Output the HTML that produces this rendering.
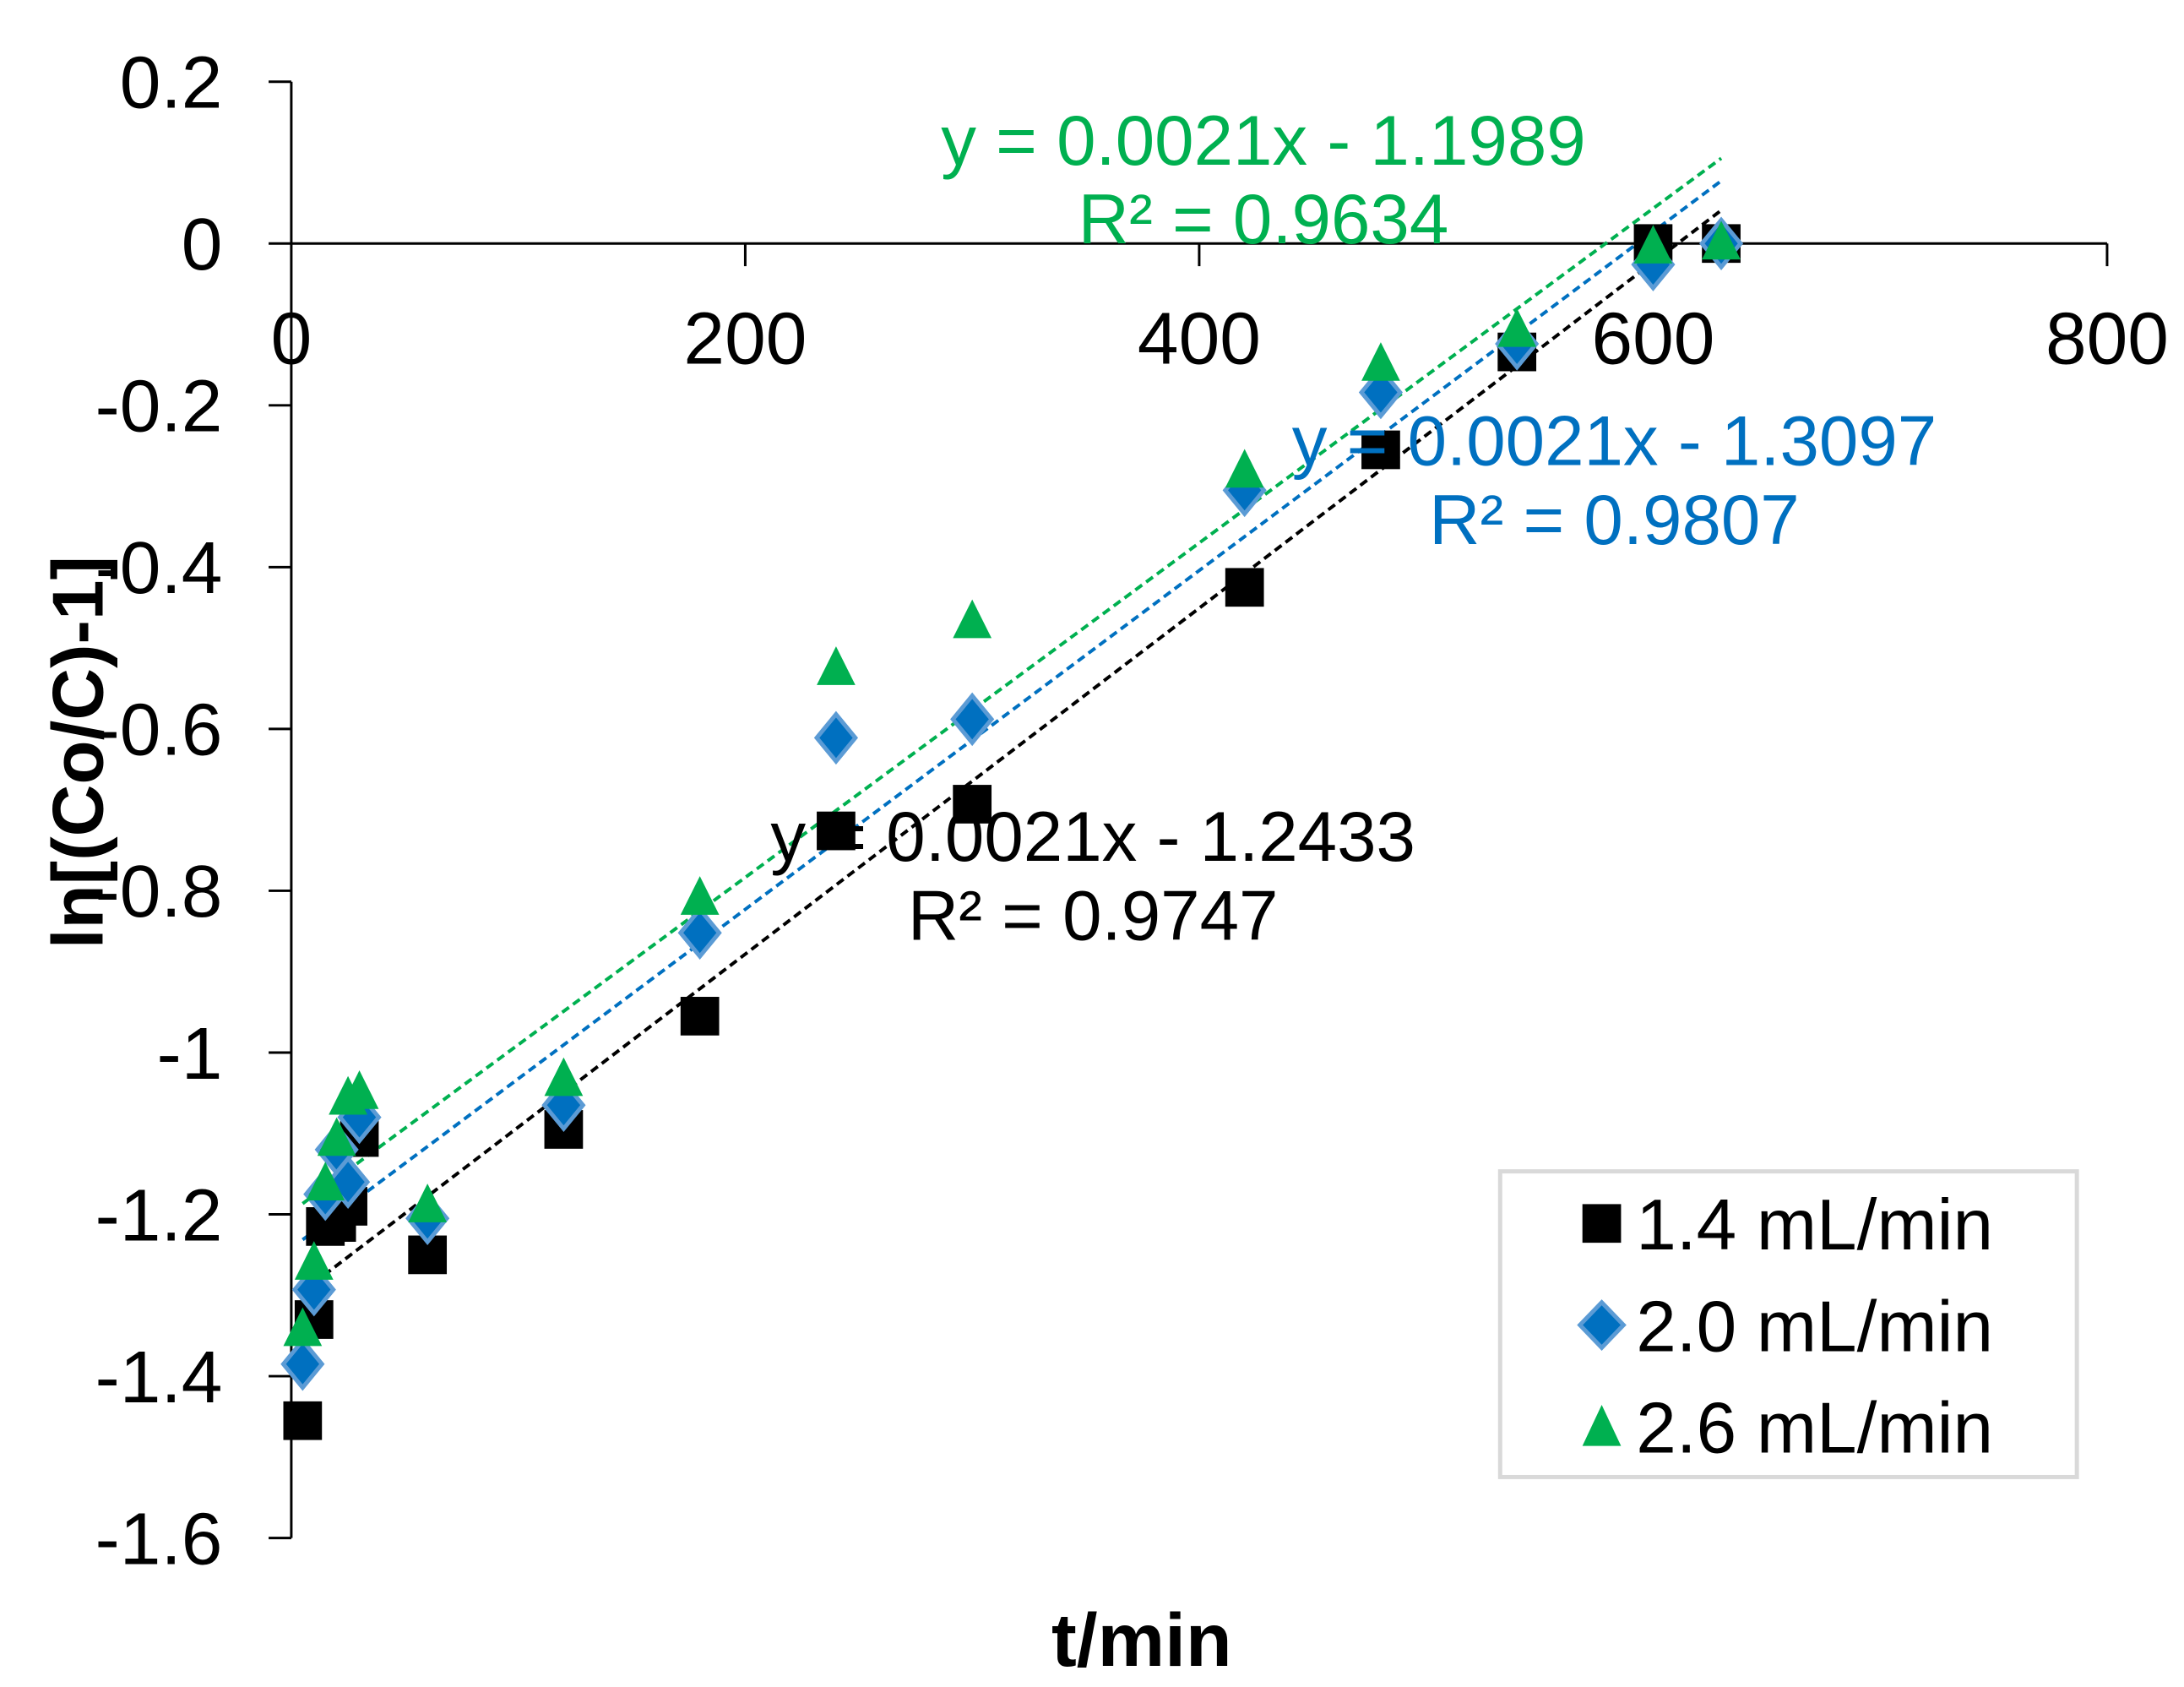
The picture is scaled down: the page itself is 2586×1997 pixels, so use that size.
<!DOCTYPE html>
<html><head><meta charset="utf-8"><style>
html,body{margin:0;padding:0;background:#fff;}
svg{display:block;font-family:"Liberation Sans",Arial,sans-serif;}
</style></head><body>
<svg id="chart" width="2586" height="1997" viewBox="0 0 2586 1997" xmlns="http://www.w3.org/2000/svg">
<rect width="2586" height="1997" fill="#fff"/>
<g transform="scale(0.994)">
<g id="axes"></g><g id="trend"></g><g id="marks"></g><g id="labels"></g>
<g>
<rect x="1787" y="1395" width="687" height="364" fill="#fff" stroke="#d9d9d9" stroke-width="5"/>
<rect x="1885" y="1434" width="46" height="46" fill="#000"/>
<text x="1949" y="1488" font-size="86">1.4 mL/min</text>
<polygon points="1908,1551 1934,1578 1908,1605 1882,1578" fill="#0070c0" stroke="#5b9bd5" stroke-width="5"/>
<text x="1949" y="1609" font-size="86">2.0 mL/min</text>
<polygon points="1908,1673 1931,1722 1885,1722" fill="#00b050"/>
<text x="1949" y="1730" font-size="86">2.6 mL/min</text>
</g>
<text x="1360" y="1984" font-size="90" font-weight="bold" text-anchor="middle">t/min</text>
<text x="0" y="0" font-size="86" font-weight="bold" text-anchor="middle" transform="translate(122,896) rotate(-90)">ln[(Co/C)-1]</text>
<text x="1505" y="196" font-size="84" fill="#00b050" text-anchor="middle">y = 0.0021x - 1.1989</text>
<text x="1505" y="290" font-size="84" fill="#00b050" text-anchor="middle">R² = 0.9634</text>
<text x="1923" y="554" font-size="84" fill="#0070c0" text-anchor="middle">y = 0.0021x - 1.3097</text>
<text x="1923" y="648" font-size="84" fill="#0070c0" text-anchor="middle">R² = 0.9807</text>
<text x="1302" y="1025" font-size="84" fill="#000" text-anchor="middle">y = 0.0021x - 1.2433</text>
<text x="1302" y="1119" font-size="84" fill="#000" text-anchor="middle">R² = 0.9747</text>
</g>
</svg>
<script>
const times = [5,10,15,20,25,30,60,120,180,240,300,420,480,540,600,630];
const s14 = [-1.455,-1.33,-1.215,-1.21,-1.19,-1.105,-1.25,-1.095,-0.955,-0.726,-0.693,-0.425,-0.255,-0.134,0,0];
const s20 = [-1.385,-1.293,-1.175,-1.12,-1.16,-1.08,-1.205,-1.065,-0.852,-0.611,-0.588,-0.305,-0.184,-0.124,-0.026,0];
const s26 = [-1.343,-1.261,-1.163,-1.108,-1.057,-1.05,-1.19,-1.034,-0.81,-0.526,-0.468,-0.282,-0.15,-0.108,-0.005,0];
const xTicks = [0,200,400,600,800];
const yTicks = [0.2,0,-0.2,-0.4,-0.6,-0.8,-1,-1.2,-1.4,-1.6];
const yTickLabels = ["0.2","0","-0.2","-0.4","-0.6","-0.8","-1","-1.2","-1.4","-1.6"];

const NS="http://www.w3.org/2000/svg";
const X0=347, X1=2510, XMAX=800, Y0=290, PERUNIT=963.5;
function sx(t){return X0+(X1-X0)*t/XMAX;}
function sy(v){return Y0-v*PERUNIT;}
function mk(tag,attrs,parent){const e=document.createElementNS(NS,tag);for(const k in attrs)e.setAttribute(k,attrs[k]);parent.appendChild(e);return e;}
const axes=document.getElementById('axes'), labels=document.getElementById('labels'), trend=document.getElementById('trend'), marks=document.getElementById('marks');

let yl=mk('line',{x1:X0,x2:X0,y1:sy(0.2),y2:sy(-1.6),stroke:'#000','stroke-width':3},axes);


let xl=mk('line',{x1:X0,x2:X1,y1:sy(0),y2:sy(0),stroke:'#000','stroke-width':3},axes);


yTicks.forEach((v,i)=>{
  const t=mk('line',{x1:X0-27,x2:X0,y1:sy(v),y2:sy(v),stroke:'#000','stroke-width':3},axes);
  
  
  const l=mk('text',{x:265,y:sy(v)+31,'font-size':88,'text-anchor':'end'},labels);
  l.textContent=yTickLabels[i];
  
  
});
xTicks.forEach(v=>{
  if(v>0){const t=mk('line',{x1:sx(v),x2:sx(v),y1:sy(0),y2:sy(0)+27,stroke:'#000','stroke-width':3},axes);
  
  }
  const l=mk('text',{x:sx(v),y:433,'font-size':88,'text-anchor':'middle'},labels);
  l.textContent=String(v);
  
  
});
function fit(ys){const n=times.length;let mx=0,my=0;for(let i=0;i<n;i++){mx+=times[i];my+=ys[i];}mx/=n;my/=n;let a=0,b=0;for(let i=0;i<n;i++){a+=(times[i]-mx)*(ys[i]-my);b+=(times[i]-mx)**2;}const m=a/b;return [m,my-m*mx];}
const series=[{d:s14,c:'#000',n:'1-4'},{d:s20,c:'#0070c0',n:'2-0'},{d:s26,c:'#00b050',n:'2-6'}];
series.forEach(s=>{
  const [m,b]=fit(s.d);const ta=times[0], tb=times[times.length-1];
  const l=mk('line',{x1:sx(ta),y1:sy(m*ta+b),x2:sx(tb),y2:sy(m*tb+b),stroke:s.c,'stroke-width':4,'stroke-dasharray':'10,6'},trend);
  
  
});
times.forEach((t,i)=>{
  const x=sx(t),y=sy(s14[i]);
  const r=mk('rect',{x:x-23,y:y-23,width:46,height:46,fill:'#000'},marks);
  
  
});
times.forEach((t,i)=>{
  const x=sx(t),y=sy(s20[i]);
  const p=mk('polygon',{points:`${x},${y-28} ${x+23},${y} ${x},${y+28} ${x-23},${y}`,fill:'#0070c0',stroke:'#5b9bd5','stroke-width':5},marks);
  
  
});
times.forEach((t,i)=>{
  const x=sx(t),y=sy(s26[i]);
  const p=mk('polygon',{points:`${x},${y-27} ${x+23},${y+19} ${x-23},${y+19}`,fill:'#00b050'},marks);
  
  
});
</script>
</body></html>
